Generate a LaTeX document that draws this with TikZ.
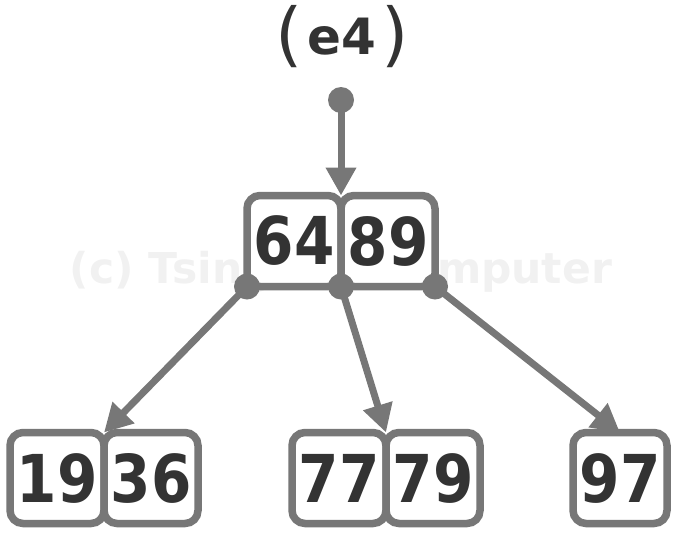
\documentclass[tikz,border=0pt]{standalone}
\usepackage{fontspec}
\usetikzlibrary{arrows.meta}
\newfontfamily\numfont{DejaVu Sans}[FakeStretch=0.88]
\newfontfamily\plainfont{DejaVu Sans}
\definecolor{edgegray}{HTML}{777777}
\definecolor{textdark}{HTML}{333333}
\definecolor{wmgray}{HTML}{F1F1F1}
\tikzset{
  kbox/.style={rectangle, rounded corners=13pt, draw=edgegray, line width=7.5pt,
    fill=white, minimum width=94pt, minimum height=91pt, inner sep=0pt, outer sep=0pt,
    text=textdark, font=\numfont\bfseries\fontsize{66}{66}\selectfont},
  pdot/.style={circle, fill=edgegray, minimum size=26pt, inner sep=0pt, outer sep=0pt},
  parr/.style={draw=edgegray, line width=7pt, -{Triangle[length=28pt,width=29pt]}},
}
\begin{document}
\begin{tikzpicture}[x=1pt,y=-1pt]
\useasboundingbox (0,0) rectangle (679,536);
% watermark
\node[text=wmgray, inner sep=0pt] (wm) at (341,272)
  {\resizebox{542pt}{!}{\plainfont\bfseries (c) Tsinghua Computer}};
% title
\node[text=textdark, inner sep=0pt] (title) at (342,37)
  {{\plainfont\fontsize{70}{70}\selectfont (}\hspace{5pt}\raisebox{4pt}{\plainfont\bfseries\fontsize{50}{50}\selectfont e4}\hspace{5pt}{\plainfont\fontsize{70}{70}\selectfont )}};
% top node
\node[kbox] (b64) at (294,241) {64};
\node[kbox] (b89) at (388,241) {89};
% leaves
\node[kbox] (b19) at (57,478) {19};
\node[kbox] (b36) at (151,478) {36};
\node[kbox] (b77) at (339,478) {77};
\node[kbox] (b79) at (433,478) {79};
\node[kbox] (b97) at (620,478) {97};
% dots
\node[pdot] (root) at (341,100) {};
\node[pdot] (p0) at (b64.south west) {};
\node[pdot] (p1) at (b64.south east) {};
\node[pdot] (p2) at (b89.south east) {};
% arrows
\draw[parr] (root.center) -- (b64.north east);
\draw[parr] (p0.center) -- (b19.north east);
\draw[parr] (p1.center) -- (b77.north east);
\draw[parr] (p2.center) -- (b97.north);
\end{tikzpicture}
\end{document}
